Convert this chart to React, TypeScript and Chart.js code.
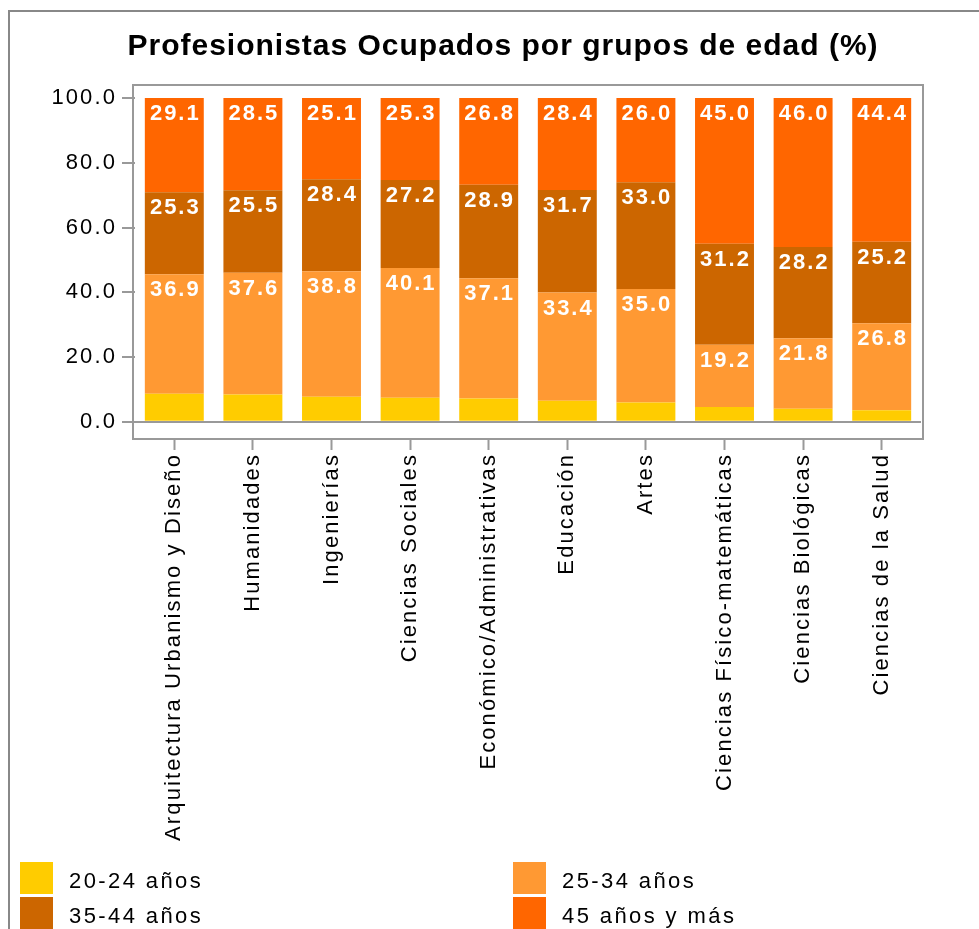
import React, { useEffect, useRef } from 'react';
import { Chart, registerables } from 'chart.js';

Chart.register(...registerables);

const categories = [
  'Arquitectura Urbanismo y Diseño',
  'Humanidades',
  'Ingenierías',
  'Ciencias Sociales',
  'Económico/Administrativas',
  'Educación',
  'Artes',
  'Ciencias Físico-matemáticas',
  'Ciencias Biológicas',
  'Ciencias de la Salud',
];
const seriesLabels = ['20-24 años', '25-34 años', '35-44 años', '45 años y más'];
const age20to24 = [8.7, 8.4, 7.7, 7.4, 7.2, 6.5, 6.0, 4.6, 4.0, 3.6];
const age25to34 = [36.9, 37.6, 38.8, 40.1, 37.1, 33.4, 35.0, 19.2, 21.8, 26.8];
const age35to44 = [25.3, 25.5, 28.4, 27.2, 28.9, 31.7, 33.0, 31.2, 28.2, 25.2];
const age45plus = [29.1, 28.5, 25.1, 25.3, 26.8, 28.4, 26.0, 45.0, 46.0, 44.4];
const yTickValues = [0, 20, 40, 60, 80, 100];
const titleText = 'Profesionistas Ocupados por grupos de edad (%)';
const colors = ['#FFCC00', '#FF9933', '#CC6600', '#FF6600'];

const FONT = '"Liberation Sans", Arial, sans-serif';

export default function App() {
  const ref = useRef<HTMLCanvasElement>(null);

  useEffect(() => {
    const canvas = ref.current!;
    const overlay = {
      id: 'overlay',
      beforeDraw(chart: any) {
        (chart.ctx as any).letterSpacing = '2.1px';
      },
      afterDraw(chart: any) {
        const ctx = chart.ctx as any;
        const area = chart.chartArea;
        ctx.save();
        // outer border
        ctx.strokeStyle = '#888';
        ctx.lineWidth = 2;
        ctx.beginPath();
        ctx.moveTo(9, 929);
        ctx.lineTo(9, 11);
        ctx.lineTo(979, 11);
        ctx.stroke();
        // plot frame
        ctx.strokeStyle = '#999';
        ctx.lineWidth = 2;
        ctx.strokeRect(area.left - 2, area.top - 1, area.right - area.left + 4, area.bottom - area.top + 2);

        // title
        ctx.letterSpacing = '1px';
        ctx.fillStyle = '#000';
        ctx.font = `bold 30px ${FONT}`;
        ctx.textAlign = 'center';
        ctx.textBaseline = 'alphabetic';
        ctx.fillText(titleText, 503, 55);

        // data labels
        ctx.letterSpacing = '2px';
        ctx.font = `bold 22px ${FONT}`;
        ctx.fillStyle = '#fff';
        ctx.textAlign = 'center';
        ctx.textBaseline = 'alphabetic';
        for (let d = 1; d < 4; d++) {
          const meta = chart.getDatasetMeta(d);
          const vals = chart.data.datasets[d].data as number[];
          meta.data.forEach((bar: any, i: number) => {
            ctx.fillText(vals[i].toFixed(1), bar.x + 1, bar.y + 22);
          });
        }

        // legend
        const legendPos = [
          { x: 20, y: 862 },
          { x: 513, y: 862 },
          { x: 20, y: 897 },
          { x: 513, y: 897 },
        ];
        ctx.letterSpacing = '2.4px';
        ctx.font = `22px ${FONT}`;
        ctx.textAlign = 'left';
        ctx.textBaseline = 'alphabetic';
        seriesLabels.forEach((lab, i) => {
          const p = legendPos[i];
          ctx.fillStyle = colors[i];
          ctx.fillRect(p.x, p.y, 33, 32);
          ctx.fillStyle = '#000';
          ctx.fillText(lab, p.x + 49, p.y + 26);
        });
        ctx.restore();
      },
    };

    const chart = new Chart(canvas, {
      type: 'bar',
      data: {
        labels: categories,
        datasets: [age20to24, age25to34, age35to44, age45plus].map((d, i) => ({
          label: seriesLabels[i],
          data: d,
          backgroundColor: colors[i],
          borderWidth: 0,
          barPercentage: 0.75,
          categoryPercentage: 1,
        })),
      },
      options: {
        responsive: false,
        animation: false,
        devicePixelRatio: 1,
        layout: { padding: { top: 86, right: 58, left: 0, bottom: 0 } },
        plugins: {
          legend: { display: false },
          title: { display: false },
          tooltip: { enabled: false },
        },
        scales: {
          x: {
            stacked: true,
            border: { display: false },
            grid: {
              offset: false,
              drawOnChartArea: false,
              drawTicks: true,
              tickLength: 12,
              tickColor: '#999',
              tickWidth: 2,
            },
            ticks: {
              autoSkip: false,
              minRotation: 90,
              maxRotation: 90,
              padding: 3,
              color: '#000',
              font: { family: FONT, size: 22 },
            },
            afterFit: (s: any) => {
              s.height = 491;
            },
          },
          y: {
            stacked: true,
            min: -5,
            max: 103.7,
            border: { display: false },
            grid: {
              drawOnChartArea: true,
              drawTicks: true,
              tickLength: 13,
              lineWidth: 2,
              color: (c: any) => (c.tick && c.tick.value === 0 ? '#999' : 'rgba(0,0,0,0)'),
              tickColor: '#999',
              tickWidth: 2,
            },
            ticks: {
              padding: 5,
              color: '#000',
              font: { family: FONT, size: 22 },
              callback: (v: any) => Number(v).toFixed(1),
            },
            afterBuildTicks: (s: any) => {
              s.ticks = yTickValues.map((v) => ({ value: v }));
            },
            afterFit: (s: any) => {
              s.width = 135;
            },
          },
        },
      },
      plugins: [overlay],
    });
    return () => chart.destroy();
  }, []);

  return (
    <div style={{ position: 'absolute', left: 0, top: 0, width: 979, height: 929, background: '#fff' }}>
      <canvas ref={ref} width={979} height={929} style={{ display: 'block', width: 979, height: 929 }} />
    </div>
  );
}
